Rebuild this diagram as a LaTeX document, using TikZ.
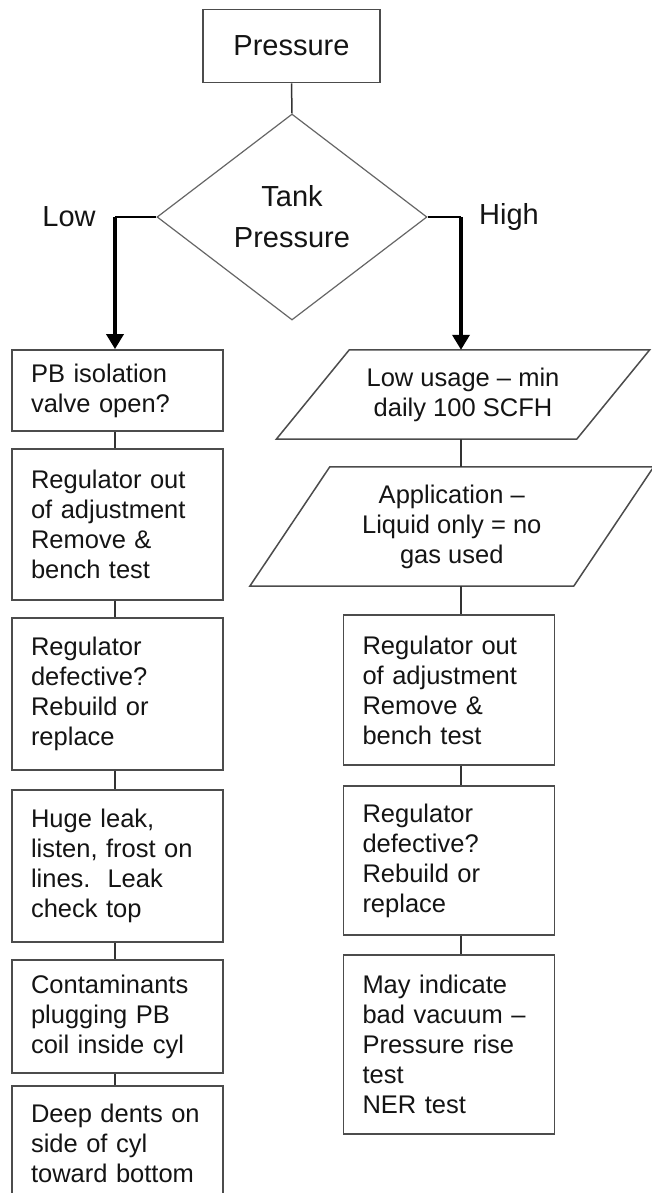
\documentclass[tikz,border=0pt]{standalone}
\usepackage{fontspec}
\setmainfont{Liberation Sans}
\usetikzlibrary{shapes.geometric,arrows.meta,calc}
\begin{document}
\begin{tikzpicture}[x=1pt,y=-1pt,
  every node/.style={text=black!92},
  boxtext/.style={font=\fontsize{25.5}{30}\selectfont},
  bigtext/.style={font=\fontsize{29}{41}\selectfont},
  stepbox/.style={boxtext, draw=black!70, line width=1.8pt, rectangle,
    minimum width=211pt, inner xsep=19pt, inner ysep=0pt, text width=173pt, align=left},
  paratext/.style={boxtext, rectangle, inner sep=0pt, align=center},
  paraline/.style={draw=black!70, line width=1.5pt, line join=miter},
  conn/.style={draw=black!80, line width=1.5pt},
  thinlead/.style={draw=black, line width=1.8pt},
  bigarrow/.style={draw=black, line width=3.5pt, -{Triangle[length=15pt,width=17pt]}},
]
\useasboundingbox (0,0) rectangle (652,1193);
\fill[white] (0,0) rectangle (652,1193);

\coordinate (lx) at (115,0);
\coordinate (rx) at (461,0);

% top
\node[bigtext, draw=black!70, line width=1.8pt, minimum width=176.5pt, minimum height=73pt, inner sep=0pt] (top) at (291.5,46) {Pressure};
\node[bigtext, diamond, draw=black!60, line width=1.2pt, minimum width=270pt, minimum height=206pt, inner sep=0pt, align=center] (dia) at (292,217) {Tank\\Pressure};
\draw[conn] (top.south) -- (dia.north);

\node[bigtext, inner sep=0pt] (low) at (69,217) {Low};
\node[bigtext, inner sep=0pt] (high) at (509,217) {High};

% left column
\node[stepbox, minimum height=81pt] (L1) at (117.5,390.5) {PB isolation\\valve open?};
\node[stepbox, minimum height=151pt] (L2) at (117.5,524.5) {Regulator out\\of adjustment\\Remove \&\\bench test};
\node[stepbox, minimum height=152pt] (L3) at (117.5,694) {Regulator\\defective?\\Rebuild or\\replace};
\node[stepbox, minimum height=152pt] (L4) at (117.5,866) {Huge leak,\\listen, frost on\\lines.\ \ Leak\\check top};
\node[stepbox, minimum height=113pt] (L5) at (117.5,1016.5) {Contaminants\\plugging PB\\coil inside cyl};
\node[stepbox, minimum height=114pt] (L6) at (117.5,1143) {Deep dents on\\side of cyl\\toward bottom};

\draw[conn] (L1.south -| lx) -- (L2.north -| lx);
\draw[conn] (L2.south -| lx) -- (L3.north -| lx);
\draw[conn] (L3.south -| lx) -- (L4.north -| lx);
\draw[conn] (L4.south -| lx) -- (L5.north -| lx);
\draw[conn] (L5.south -| lx) -- (L6.north -| lx);

% right column
\node[paratext, minimum width=300pt, minimum height=89pt] (P1) at (463,394.5) {Low usage – min\\daily 100 SCFH};
\draw[paraline] ($(P1.north west)+(36.5,0)$) -- ($(P1.north east)+(36.5,0)$) -- ($(P1.south east)-(36.5,0)$) -- ($(P1.south west)-(36.5,0)$) -- cycle;
\node[paratext, minimum width=323.5pt, minimum height=119pt] (P2) at (451.75,526.5) {Application –\\Liquid only = no\\gas used};
\draw[paraline] ($(P2.north west)+(40,0)$) -- ($(P2.north east)+(40,0)$) -- ($(P2.south east)-(40,0)$) -- ($(P2.south west)-(40,0)$) -- cycle;

\node[stepbox, minimum height=150pt] (R1) at (449,690) {Regulator out\\of adjustment\\Remove \&\\bench test};
\node[stepbox, minimum height=149pt] (R2) at (449,860.5) {Regulator\\defective?\\Rebuild or\\replace};
\node[stepbox, minimum height=179pt] (R3) at (449,1044.5) {May indicate\\bad vacuum –\\Pressure rise\\test\\NER test};

\draw[conn] (P1.south -| rx) -- (P2.north -| rx);
\draw[conn] (P2.south -| rx) -- (R1.north -| rx);
\draw[conn] (R1.south -| rx) -- (R2.north -| rx);
\draw[conn] (R2.south -| rx) -- (R3.north -| rx);

% branches
\draw[thinlead] (dia.west) -- (dia.west -| lx);
\draw[bigarrow] (dia.west -| lx) -- (L1.north -| lx);
\draw[thinlead] (dia.east) -- (dia.east -| rx);
\draw[bigarrow] (dia.east -| rx) -- (P1.north -| rx);
\end{tikzpicture}
\end{document}
